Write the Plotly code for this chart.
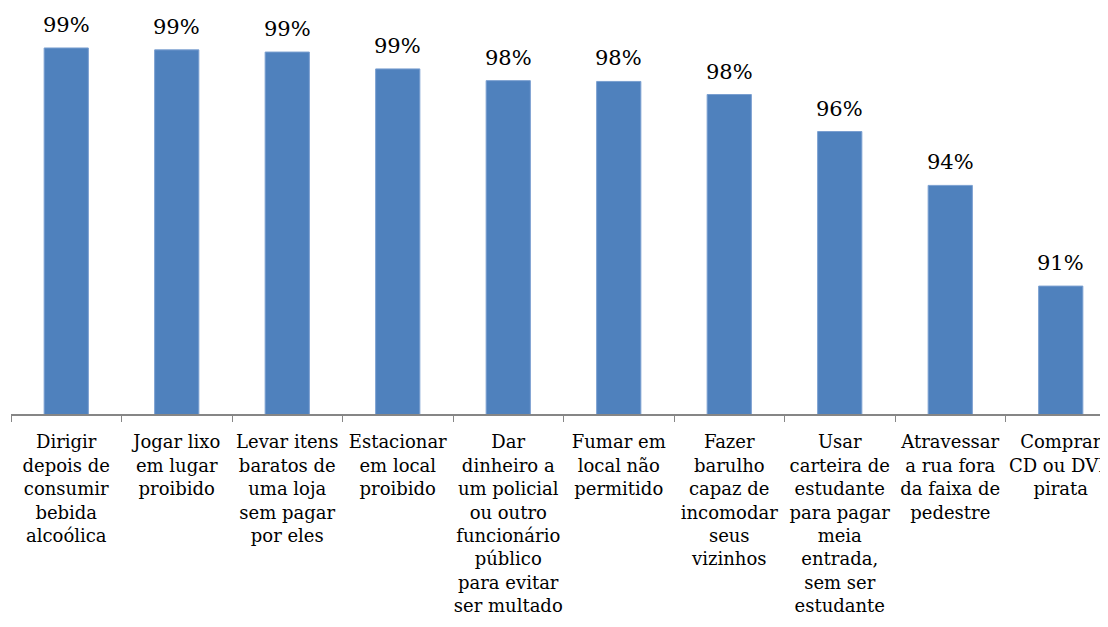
import plotly.graph_objects as go

# categorias (quebras de linha como no original)
categorias = [
    "Dirigir<br>depois de<br>consumir<br>bebida<br>alcoólica",
    "Jogar lixo<br>em lugar<br>proibido",
    "Levar itens<br>baratos de<br>uma loja<br>sem pagar<br>por eles",
    "Estacionar<br>em local<br>proibido",
    "Dar<br>dinheiro a<br>um policial<br>ou outro<br>funcionário<br>público<br>para evitar<br>ser multado",
    "Fumar em<br>local não<br>permitido",
    "Fazer<br>barulho<br>capaz de<br>incomodar<br>seus<br>vizinhos",
    "Usar<br>carteira de<br>estudante<br>para pagar<br>meia<br>entrada,<br>sem ser<br>estudante",
    "Atravessar<br>a rua fora<br>da faixa de<br>pedestre",
    "Comprar<br>CD ou DVD<br>pirata",
]
valores = [0.9945, 0.9938, 0.9930, 0.9868, 0.9825, 0.9822, 0.9774, 0.9638, 0.9440, 0.9070]

FONTE = "DejaVu Serif"

fig = go.Figure()
fig.add_trace(go.Bar(
    x=categorias,
    y=valores,
    marker=dict(color="#4F81BD", line=dict(color="#7A9FD0", width=1)),
    hoverinfo="x+y",
))

# rótulos de dados acima das barras
for cat, v in zip(categorias, valores):
    fig.add_annotation(
        x=cat, y=v, text=f"{round(v * 100):.0f}%",
        showarrow=False, yanchor="bottom", yshift=9,
        font=dict(family=FONTE, size=21, color="#000000"),
    )

# a página tem 8px de margem no body; as margens compensam isso
fig.update_layout(
    width=1108, height=627,
    margin=dict(l=3, r=0, t=25, b=221, autoexpand=False),
    paper_bgcolor="white", plot_bgcolor="white",
    bargap=0.6,
    showlegend=False,
    font=dict(family=FONTE, size=18, color="#000000"),
)
fig.update_xaxes(
    type="category",
    range=[-0.5, 9.5],
    automargin=False,
    tickangle=0,
    showline=True, linecolor="#868686", linewidth=1.5,
    ticks="outside", tickson="boundaries", ticklen=6, tickcolor="#868686",
    ticklabelstandoff=11,
    tickfont=dict(family=FONTE, size=18, color="#000000"),
    showgrid=False,
)
fig.update_yaxes(range=[0.86, 1.0], visible=False)

fig.write_html("out.html")
